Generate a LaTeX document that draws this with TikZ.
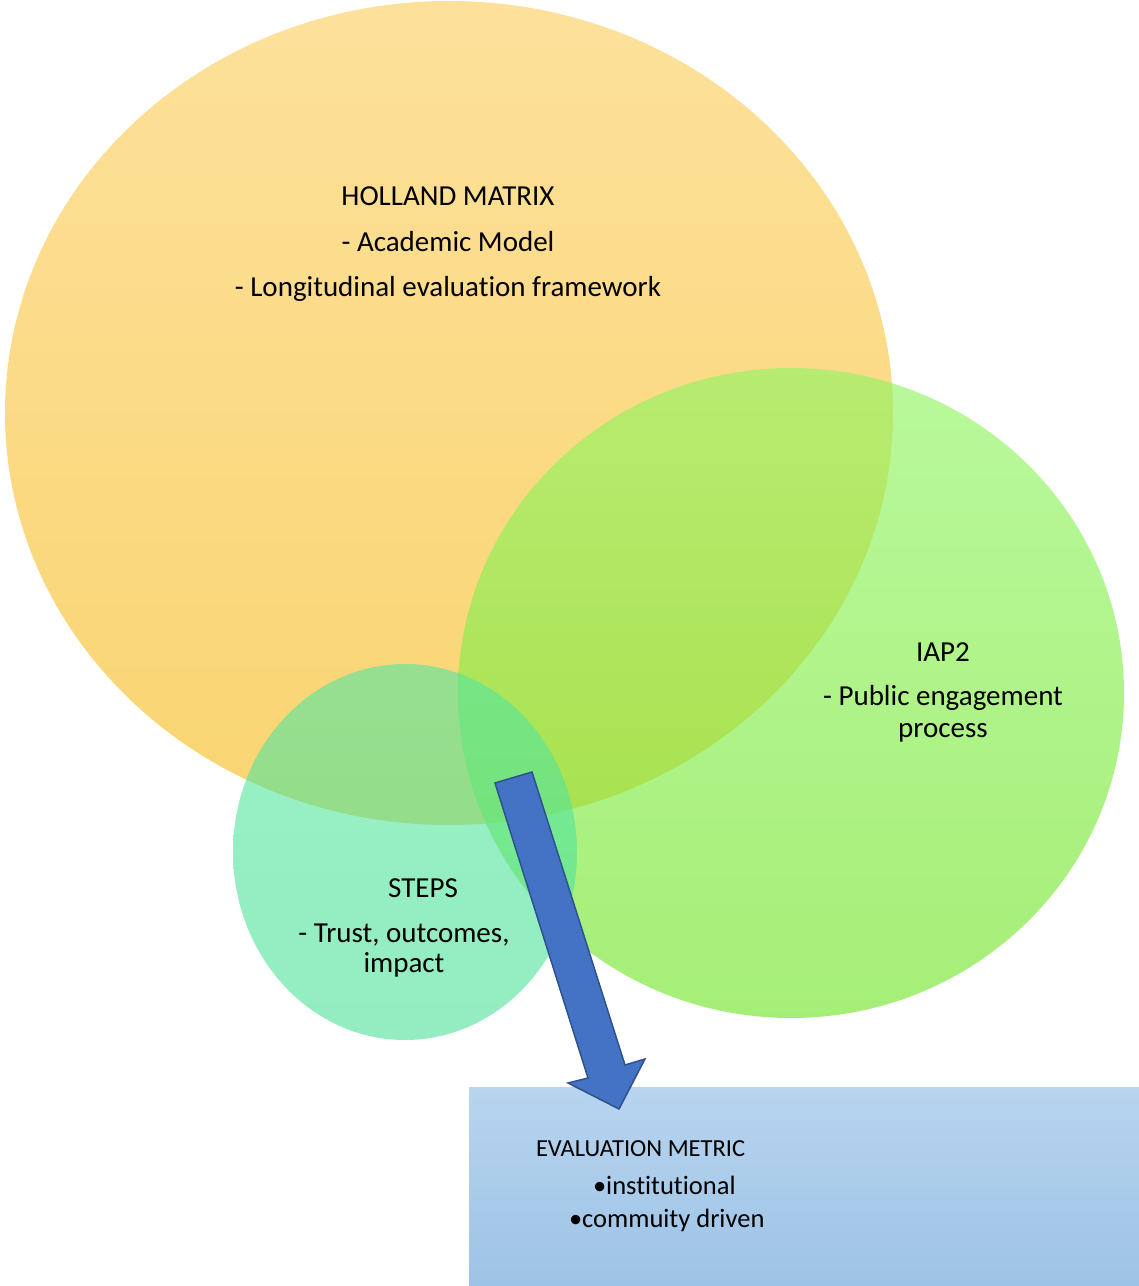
\documentclass[tikz,border=0pt]{standalone}
\usepackage{fontspec}
\setmainfont{Carlito}[Ligatures={NoCommon}]
\definecolor{cfde19b}{RGB}{253,225,155}
\definecolor{cf9d470}{RGB}{249,212,112}
\definecolor{c94f566}{RGB}{148,245,102}
\definecolor{c75e52d}{RGB}{117,229,45}
\definecolor{c55e6a0}{RGB}{85,230,160}
\definecolor{c4be196}{RGB}{75,225,150}
\definecolor{cb8d4ef}{RGB}{184,212,239}
\definecolor{c9dc3e6}{RGB}{157,195,230}
\definecolor{c4472c4}{RGB}{68,114,196}
\definecolor{c2f528f}{RGB}{47,82,143}
\def \globalscale {1.000000}

\begin{document}
\begin{tikzpicture}[y=1pt, x=1pt, yscale=\globalscale,xscale=\globalscale, every node/.append style={scale=\globalscale}, inner sep=0pt, outer sep=0pt,
  bigtext/.style={text=black,anchor=base,font=\fontsize{29}{34}\selectfont},
  smalltext/.style={text=black,anchor=base west,font=\fontsize{24.5}{29}\selectfont},
  bullettext/.style={smalltext,font=\fontsize{26.5}{31}\selectfont}]
  \useasboundingbox (0.0, 0.0) rectangle (1139.0, 1286.0);



  \path[top color=cfde19b,bottom color=cf9d470] (449.0, 873.0) ellipse (444.0 and 412.0);



  \path[top color=c94f566,bottom color=c75e52d,fill opacity=0.65] (791.0, 593.0) ellipse (333.0 and 325.0);



  \path[top color=c55e6a0,bottom color=c4be196,fill opacity=0.6] (405.0, 434.0) ellipse (172.0 and 188.0);



  \path[top color=cb8d4ef,bottom color=c9dc3e6] (469.0, 0.0) rectangle (1139.0, 198.0);



  \path[draw=c2f528f,fill=c4472c4,line join=miter,line width=1.5pt,miter 
  limit=10.0] (495.0, 503.0) -- (532.0, 514.0) -- (625.0, 221.0) -- (645.0, 
  227.0) -- (619.0, 177.0) -- (568.0, 203.0) -- (588.0, 208.0) -- cycle;



  \node[bigtext] (text1080) at (448.0, 1080.0){HOLLAND MATRIX};



  \node[bigtext] (text1034) at (448.0, 1034.5){- Academic Model};



  \node[bigtext] (text989) at (448.0, 989.5){- Longitudinal evaluation framework};



  \node[bigtext] (text624) at (943.0, 624.0){IAP2};



  \node[bigtext] (text580) at (943.0, 580.0){- Public engagement};



  \node[bigtext] (text548) at (943.0, 548.0){process};



  \node[bigtext] (text388) at (423.0, 388.0){STEPS};



  \node[bigtext] (text343) at (404.0, 343.0){- Trust, outcomes,};



  \node[bigtext] (text313) at (404.0, 313.0){impact};



  \node[smalltext] (text129) at (536.0, 129.0){EVALUATION METRIC};



  \node[bullettext] (text91) at (593.0, 91.0){•institutional};



  \node[bullettext] (text58) at (569.0, 58.0){•commuity driven};




\end{tikzpicture}
\end{document}
